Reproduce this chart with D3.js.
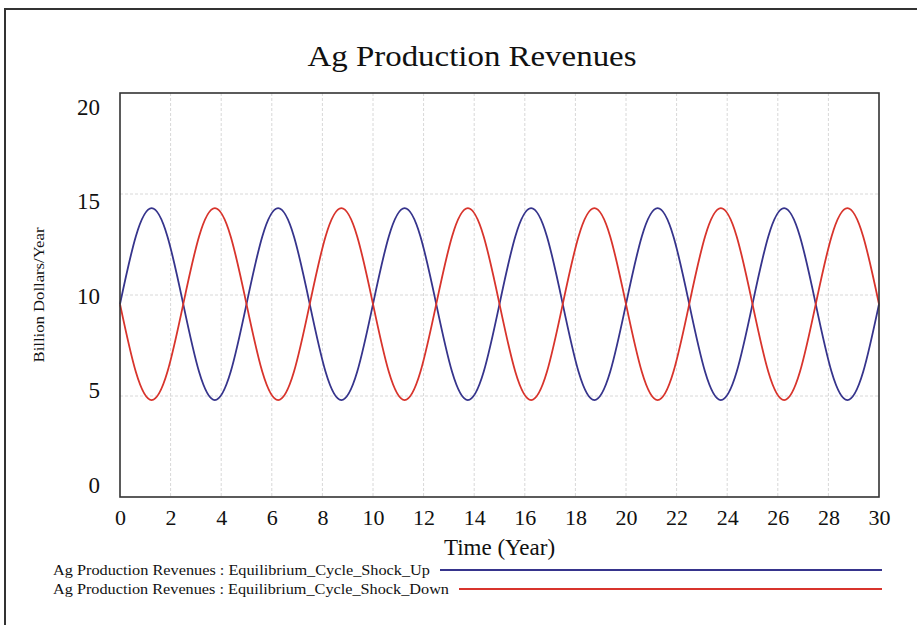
<!DOCTYPE html>
<html>
<head>
<meta charset="utf-8">
<script src="https://cdn.jsdelivr.net/npm/d3@7"></script>
<style>
  body { margin: 0; background: #fff; }
  svg { display: block; }
  text { font-family: "Liberation Serif", "Times New Roman", serif; fill: #111; }
</style>
</head>
<body>
<svg id="chart"></svg>
<script>
// Years sampled along the run (every 1/8 of a cycle)
const years = [0, 0.625, 1.25, 1.875, 2.5, 3.125, 3.75, 4.375,
  5, 5.625, 6.25, 6.875, 7.5, 8.125, 8.75, 9.375,
  10, 10.625, 11.25, 11.875, 12.5, 13.125, 13.75, 14.375,
  15, 15.625, 16.25, 16.875, 17.5, 18.125, 18.75, 19.375,
  20, 20.625, 21.25, 21.875, 22.5, 23.125, 23.75, 24.375,
  25, 25.625, 26.25, 26.875, 27.5, 28.125, 28.75, 29.375, 30];

// Ag Production Revenues : Equilibrium_Cycle_Shock_Up
const shockUp = [9.55, 12.9, 14.3, 12.9, 9.55, 6.2, 4.8, 6.2,
  9.55, 12.9, 14.3, 12.9, 9.55, 6.2, 4.8, 6.2,
  9.55, 12.9, 14.3, 12.9, 9.55, 6.2, 4.8, 6.2,
  9.55, 12.9, 14.3, 12.9, 9.55, 6.2, 4.8, 6.2,
  9.55, 12.9, 14.3, 12.9, 9.55, 6.2, 4.8, 6.2,
  9.55, 12.9, 14.3, 12.9, 9.55, 6.2, 4.8, 6.2, 9.55];

// Ag Production Revenues : Equilibrium_Cycle_Shock_Down
const shockDown = [9.55, 6.2, 4.8, 6.2, 9.55, 12.9, 14.3, 12.9,
  9.55, 6.2, 4.8, 6.2, 9.55, 12.9, 14.3, 12.9,
  9.55, 6.2, 4.8, 6.2, 9.55, 12.9, 14.3, 12.9,
  9.55, 6.2, 4.8, 6.2, 9.55, 12.9, 14.3, 12.9,
  9.55, 6.2, 4.8, 6.2, 9.55, 12.9, 14.3, 12.9,
  9.55, 6.2, 4.8, 6.2, 9.55, 12.9, 14.3, 12.9, 9.55];

const xTicks = [0, 2, 4, 6, 8, 10, 12, 14, 16, 18, 20, 22, 24, 26, 28, 30];
const yTicks = [0, 5, 10, 15, 20];

const seriesNames = ["Ag Production Revenues : Equilibrium_Cycle_Shock_Up",
                     "Ag Production Revenues : Equilibrium_Cycle_Shock_Down"];
const seriesColors = ["#36348c", "#d8342c"];

const width = 917, height = 625;
const margin = { top: 93, right: 38, bottom: 128, left: 120 };

const svg = d3.select("#chart")
    .attr("width", width)
    .attr("height", height);

// outer frame (runs off the right and bottom edge)
svg.append("rect")
    .attr("x", 5).attr("y", 9)
    .attr("width", width + 10).attr("height", height + 10)
    .attr("fill", "none")
    .attr("stroke", "#333")
    .attr("stroke-width", 2);

const xScale = d3.scaleLinear()
    .domain([0, 30])
    .range([margin.left, width - margin.right]);

const yScale = d3.scaleLinear()
    .domain([0, 20])
    .range([height - margin.bottom, margin.top]);

// Vensim pulls the end labels inside the frame a little
const yLabelScale = d3.scaleLinear()
    .domain([0, 20])
    .range([height - margin.bottom - 12, margin.top + 14]);

// gridlines
svg.append("g")
    .selectAll("line")
    .data(xTicks.slice(1, -1))
    .enter()
    .append("line")
    .attr("x1", d => xScale(d)).attr("x2", d => xScale(d))
    .attr("y1", margin.top).attr("y2", height - margin.bottom)
    .attr("stroke", "#d8d8d8")
    .attr("stroke-dasharray", "3,2");

svg.append("g")
    .selectAll("line")
    .data(yTicks.slice(1, -1))
    .enter()
    .append("line")
    .attr("x1", margin.left).attr("x2", width - margin.right)
    .attr("y1", d => yScale(d)).attr("y2", d => yScale(d))
    .attr("stroke", "#d8d8d8")
    .attr("stroke-dasharray", "3,2");

// axes, labels only
const xAxisGroup = svg.append("g")
    .attr("transform", `translate(0,${height - margin.bottom})`)
    .call(d3.axisBottom(xScale).tickValues(xTicks).tickSize(0).tickPadding(12));
xAxisGroup.select(".domain").remove();
xAxisGroup.selectAll("text")
    .style("font-family", "Liberation Serif, serif")
    .style("font-size", "22px")
    .attr("fill", "#111");

const yAxisGroup = svg.append("g")
    .attr("transform", `translate(${margin.left},0)`)
    .call(d3.axisLeft(yLabelScale).tickValues(yTicks).tickSize(0).tickPadding(20));
yAxisGroup.select(".domain").remove();
yAxisGroup.selectAll("text")
    .style("font-family", "Liberation Serif, serif")
    .style("font-size", "23px")
    .attr("fill", "#111");

// series lines
const line = d3.line()
    .x((d, i) => xScale(years[i]))
    .y(d => yScale(d))
    .curve(d3.curveNatural);

[shockUp, shockDown].forEach((values, k) => {
    svg.append("path")
        .datum(values)
        .attr("fill", "none")
        .attr("stroke", seriesColors[k])
        .attr("stroke-width", 1.8)
        .attr("d", line);
});

// plot frame
svg.append("rect")
    .attr("x", margin.left).attr("y", margin.top)
    .attr("width", width - margin.right - margin.left)
    .attr("height", height - margin.bottom - margin.top)
    .attr("fill", "none")
    .attr("stroke", "#333")
    .attr("stroke-width", 1.6);

// title
svg.append("text")
    .attr("x", 472).attr("y", 66)
    .attr("text-anchor", "middle")
    .attr("textLength", 329)
    .attr("lengthAdjust", "spacingAndGlyphs")
    .style("font-size", "30px")
    .text("Ag Production Revenues");

// axis titles
svg.append("text")
    .attr("x", (margin.left + width - margin.right) / 2)
    .attr("y", 555)
    .attr("text-anchor", "middle")
    .style("font-size", "23px")
    .text("Time (Year)");

svg.append("text")
    .attr("transform", `translate(44,${(margin.top + height - margin.bottom) / 2}) rotate(-90)`)
    .attr("text-anchor", "middle")
    .attr("textLength", 135)
    .attr("lengthAdjust", "spacingAndGlyphs")
    .style("font-size", "14px")
    .text("Billion Dollars/Year");

// legend
const legendY = [571, 590];
const legendTextEnd = [430, 449];
seriesNames.forEach((name, k) => {
    svg.append("text")
        .attr("x", 53).attr("y", legendY[k] + 4)
        .attr("textLength", legendTextEnd[k] - 53)
        .attr("lengthAdjust", "spacingAndGlyphs")
        .style("font-size", "14px")
        .text(name);
    svg.append("line")
        .attr("x1", legendTextEnd[k] + 10).attr("x2", 882)
        .attr("y1", legendY[k] - 1).attr("y2", legendY[k] - 1)
        .attr("stroke", seriesColors[k])
        .attr("stroke-width", 1.8);
});
</script>
</body>
</html>
